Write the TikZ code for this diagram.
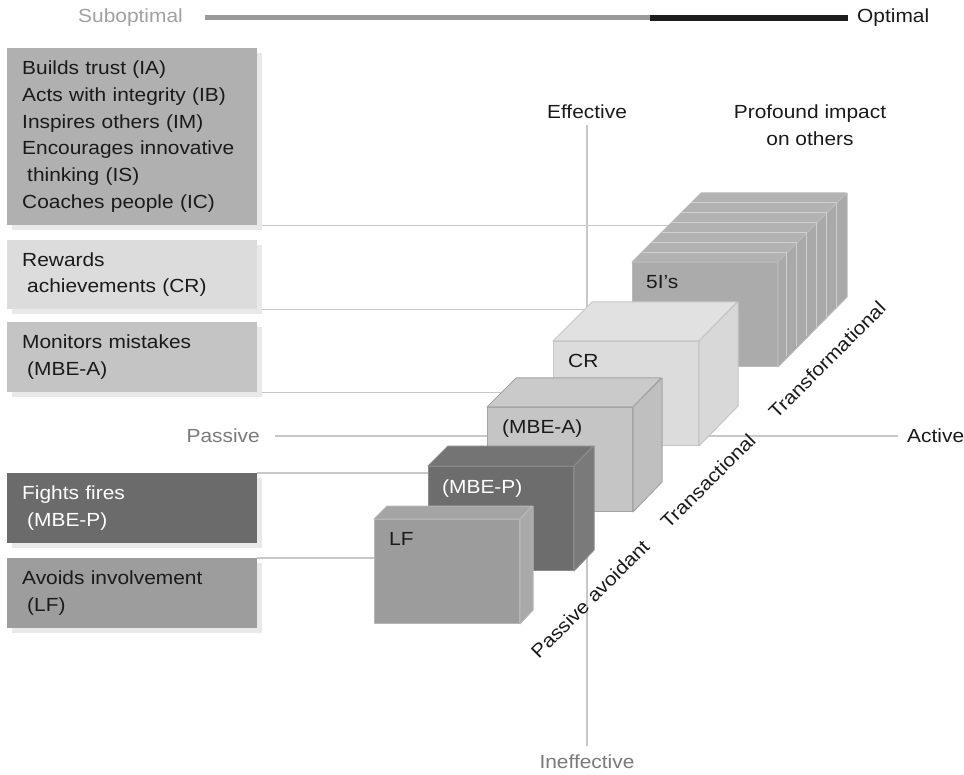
\documentclass[tikz,border=0pt]{standalone}
\usepackage{fontspec}
\setmainfont{Liberation Sans}[FakeStretch=1.1]
\usetikzlibrary{shadows,backgrounds,calc}
\definecolor{txt}{HTML}{1A1A1A}
\definecolor{subc}{HTML}{A0A0A0}
\definecolor{axisg}{HTML}{7A7A7A}
\definecolor{linec}{HTML}{C8C8C8}
\definecolor{barg}{HTML}{9A9A9A}
\definecolor{barb}{HTML}{1E1E1E}
\definecolor{shadowc}{HTML}{E9E9E9}
\definecolor{bA}{HTML}{B0B0B0}
\definecolor{bB}{HTML}{DCDCDC}
\definecolor{bC}{HTML}{C4C4C4}
\definecolor{bD}{HTML}{6B6B6B}
\definecolor{bE}{HTML}{9D9D9D}
% cubes
\definecolor{fiveF}{HTML}{ABABAB}\definecolor{fiveT}{HTML}{B2B2B2}\definecolor{fiveS}{HTML}{A9A9A9}\definecolor{fiveE}{HTML}{B9B9B9}\definecolor{slabc}{HTML}{CFCFCF}
\definecolor{crF}{HTML}{DCDCDC}\definecolor{crT}{HTML}{E1E1E1}\definecolor{crS}{HTML}{D8D8D8}\definecolor{crE}{HTML}{C6C6C6}
\definecolor{maF}{HTML}{C5C5C5}\definecolor{maT}{HTML}{CACACA}\definecolor{maS}{HTML}{BFBFBF}\definecolor{maE}{HTML}{A4A4A4}
\definecolor{mpF}{HTML}{6D6D6D}\definecolor{mpT}{HTML}{747474}\definecolor{mpS}{HTML}{7A7A7A}\definecolor{mpE}{HTML}{8A8A8A}
\definecolor{lfF}{HTML}{9C9C9C}\definecolor{lfT}{HTML}{A4A4A4}\definecolor{lfS}{HTML}{A9A9A9}\definecolor{lfE}{HTML}{B6B6B6}
\newcommand{\cubefaces}[5]{%
  \filldraw[fill=#3, draw=#5, face] (#1.north west) -- ++(#2,-#2) -- ++(145,0) -- (#1.north east) -- cycle;
  \filldraw[fill=#4, draw=#5, face] (#1.north east) -- ++(#2,-#2) -- ++(0,104) -- (#1.south east) -- cycle;
}
\begin{document}
\begin{tikzpicture}[x=1pt,y=-1pt,
  every node/.style={font=\fontsize{19}{26.7}\selectfont},
  lbox/.style={anchor=north west, minimum width=250pt, inner xsep=15pt, inner ysep=0pt,
    text width=220pt, align=left, text=txt,
    drop shadow={shadow xshift=5pt, shadow yshift=-5pt, fill=shadowc, opacity=1}},
  conn/.style={draw=linec, line width=1.5pt},
  face/.style={line width=1pt, line join=round},
  cubefront/.style={anchor=north west, minimum width=145pt, minimum height=104pt, inner sep=0pt, line width=1pt},
  cubetext/.style={anchor=base west, inner sep=0pt, text=txt},
  axlabel/.style={inner sep=0pt},
  slab/.style={draw=slabc, line width=1pt, line join=round},
]
\useasboundingbox (0,0) rectangle (964,775);

% top scale bar
\node[axlabel, anchor=east, text=subc] (sub) at (183,18) {Suboptimal};
\node[axlabel, anchor=west, text=txt] (opt) at (857,18) {Optimal};
\coordinate (barmid) at (650,18);
\draw[line width=5pt, draw=barg] ([xshift=22pt]sub.east |- barmid) -- (barmid);
\draw[line width=6pt, draw=barb] (barmid) -- ([xshift=-9pt]opt.west |- barmid);

% left boxes
\node[lbox, fill=bA, minimum height=177pt] (trust) at (7,48)
  {Builds trust (IA)\\Acts with integrity (IB)\\Inspires others (IM)\\Encourages innovative\\\hspace*{5pt}thinking (IS)\\Coaches people (IC)};
\node[lbox, fill=bB, minimum height=69pt] (crl) at (7,240)
  {Rewards\\\hspace*{5pt}achievements (CR)};
\node[lbox, fill=bC, minimum height=70pt] (mbeal) at (7,322)
  {Monitors mistakes\\\hspace*{5pt}(MBE-A)};
\node[lbox, fill=bD, minimum height=70pt, text=white] (mbepl) at (7,473)
  {Fights fires\\\hspace*{5pt}(MBE-P)};
\node[lbox, fill=bE, minimum height=70pt] (lfl) at (7,558)
  {Avoids involvement\\\hspace*{5pt}(LF)};

% axis labels
\node[axlabel, anchor=east, text=axisg] (passive) at (260,436) {Passive};
\node[axlabel, anchor=west, text=txt] (active) at (907,436) {Active};
\node[axlabel, text=txt] (eff) at (587,112) {Effective};
\node[axlabel, text=axisg] (ineff) at (587,762) {Ineffective};
\node[axlabel, text=txt, align=center] (profound) at (810,125) {Profound impact\\on others};

% cubes, back to front
\node[cubefront, fill=fiveF, draw=fiveE] (five) at (632,262) {};
\cubefaces{five}{69}{fiveT}{fiveS}{fiveE}
\foreach \k in {1,...,6} {
  \draw[slab] ($(five.north west)+(\k*9.857,-\k*9.857)$) -- ++(145,0) -- ++(0,104);
}
\node[cubetext] (fivet) at ([xshift=14pt,yshift=-27pt]five.north west) {5I’s};

\node[cubefront, fill=crF, draw=crE] (crc) at (553,341) {};
\cubefaces{crc}{39}{crT}{crS}{crE}
\node[cubetext] (crt) at ([xshift=15pt,yshift=-27pt]crc.north west) {CR};

\node[cubefront, fill=maF, draw=maE] (mac) at (487,407) {};
\cubefaces{mac}{29}{maT}{maS}{maE}
\node[cubetext] (mat) at ([xshift=15pt,yshift=-26pt]mac.north west) {(MBE-A)};

\node[cubefront, fill=mpF, draw=mpE] (mpc) at (428,466) {};
\cubefaces{mpc}{20}{mpT}{mpS}{mpE}
\node[cubetext, text=white] (mpt) at ([xshift=14pt,yshift=-27pt]mpc.north west) {(MBE-P)};

\node[cubefront, fill=lfF, draw=lfE] (lfc) at (374,519) {};
\cubefaces{lfc}{13}{lfT}{lfS}{lfE}
\node[cubetext] (lft) at ([xshift=15pt,yshift=-26pt]lfc.north west) {LF};

% diagonal labels
\node[axlabel, text=txt, rotate=45] (pa) at (590,599) {Passive avoidant};
\node[axlabel, text=txt, rotate=45] (tra) at (708,481) {Transactional};
\node[axlabel, text=txt, rotate=45] (trf) at (827,360) {Transformational};

% connectors behind
\begin{pgfonlayer}{background}
\draw[conn] (trust.south east) -- (trust.south east -| five.center);
\draw[conn] (crl.south east) -- (crl.south east -| crc.center);
\draw[conn] (mbeal.south east) -- (mbeal.south east -| mac.center);
\draw[conn] (mbepl.north east) -- (mbepl.north east -| mpc.center);
\draw[conn] (lfl.north east) -- (lfl.north east -| lfc.center);
\draw[conn] ([xshift=15pt]passive.east) -- ([xshift=-9pt]active.west);
\draw[conn] ([yshift=-6pt]eff.south) -- ([yshift=9pt]ineff.north);
\end{pgfonlayer}
\end{tikzpicture}
\end{document}
